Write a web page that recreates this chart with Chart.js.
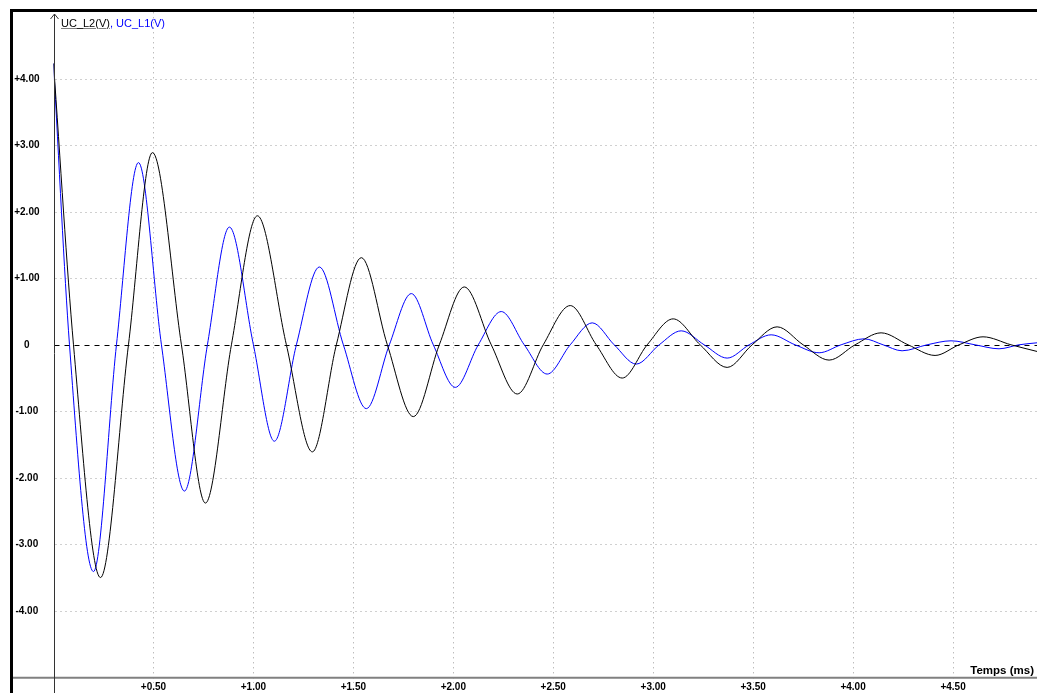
<!DOCTYPE html>
<html>
<head>
<meta charset="utf-8">
<script src="https://cdn.jsdelivr.net/npm/chart.js@4.4.1/dist/chart.umd.min.js"></script>
<style>
  html, body { margin: 0; padding: 0; background: #fff; }
  #wrap { position: relative; width: 1037px; height: 693px; overflow: hidden; }
  #chart { position: absolute; left: 0; top: 0; }
  .legend { position: absolute; left: 61px; top: 17px; font: 11px 'Liberation Sans', Arial, sans-serif; line-height: 13px; white-space: nowrap; }
  .legend .l2 { color: #000; text-decoration: underline; text-decoration-color: #808080; }
  .legend .l1 { color: #0000ff; }
  .xtitle { position: absolute; right: 3px; top: 664px; font: bold 11.5px 'Liberation Sans', Arial, sans-serif; line-height: 13px; color: #000; }
</style>
</head>
<body>
<div id="wrap">
  <canvas id="chart" width="1037" height="693"></canvas>
  <div class="legend"><span class="l2">UC_L2(V)</span><span class="l1">, UC_L1(V)</span></div>
  <div class="xtitle">Temps (ms)</div>
</div>
<script>
// axis ticks
const timeTicks = [0.5, 1.0, 1.5, 2.0, 2.5, 3.0, 3.5, 4.0, 4.5];
const voltTicks = [-4, -3, -2, -1, 0, 1, 2, 3, 4];
const X_MAX = 4.92;

// UC_L2 (black) : peaks, troughs and zero crossings
const timeL2 = [0, 0.10, 0.235, 0.375, 0.495, 0.64, 0.76, 0.89, 1.02, 1.165, 1.295, 1.415, 1.54, 1.67, 1.80,
  1.93, 2.055, 2.19, 2.32, 2.45, 2.585, 2.715, 2.845, 2.97, 3.10, 3.235, 3.37, 3.495, 3.62, 3.75, 3.88,
  4.01, 4.14, 4.275, 4.41, 4.53, 4.65, 4.79, 4.92];
const uL2 = [4.23, 0, -3.50, 0, 2.89, 0, -2.38, 0, 1.94, 0, -1.61, 0, 1.31, 0, -1.08,
  0, 0.87, 0, -0.74, 0, 0.59, 0, -0.50, 0, 0.39, 0, -0.34, 0, 0.27, 0, -0.23,
  0, 0.18, 0, -0.16, 0, 0.12, 0, -0.10];

// UC_L1 (blue)
const timeL1 = [0, 0.08, 0.20, 0.315, 0.425, 0.54, 0.655, 0.77, 0.88, 1.00, 1.105, 1.215, 1.33, 1.45, 1.565,
  1.68, 1.79, 1.90, 2.01, 2.125, 2.24, 2.355, 2.47, 2.585, 2.695, 2.805, 2.915, 3.03, 3.14, 3.255, 3.37,
  3.48, 3.59, 3.71, 3.83, 3.94, 4.055, 4.15, 4.245, 4.37, 4.49, 4.61, 4.73, 4.83, 4.92];
const uL1 = [4.23, 0, -3.41, 0, 2.74, 0, -2.20, 0, 1.77, 0, -1.45, 0, 1.17, 0, -0.96,
  0, 0.77, 0, -0.64, 0, 0.50, 0, -0.44, 0, 0.33, 0, -0.29, 0, 0.21, 0, -0.20,
  0, 0.15, 0, -0.12, 0, 0.09, 0, -0.09, 0, 0.06, 0, -0.06, 0, 0.03];

const FONT = "'Liberation Sans', Arial, sans-serif";

function toPoints(ts, vs) {
  return ts.map((t, i) => ({ x: t, y: vs[i] }));
}

function fmtVolt(v) {
  if (v === 0) return '0';
  return (v > 0 ? '+' : '') + v.toFixed(2);
}

// no extra label padding: chart area is fixed by the layout below
function fixSize(s, w, h) {
  if (w !== null) s.width = w;
  if (h !== null) s.height = h;
  s.paddingTop = 0; s.paddingBottom = 0; s.paddingLeft = 0; s.paddingRight = 0;
}

// grid, zero line, axes, frame
const scopeFrame = {
  id: 'scopeFrame',
  beforeDatasetsDraw(chart) {
    const { ctx, chartArea: a, scales: { x, y } } = chart;
    ctx.save();
    ctx.lineWidth = 1;
    ctx.strokeStyle = '#a0a0a0';
    ctx.setLineDash([1, 4]);
    timeTicks.forEach(t => {
      const px = Math.round(x.getPixelForValue(t)) + 0.5;
      ctx.beginPath(); ctx.moveTo(px, a.top); ctx.lineTo(px, 683); ctx.stroke();
    });
    voltTicks.filter(v => v !== 0).forEach(v => {
      const py = Math.round(y.getPixelForValue(v)) + 0.5;
      ctx.beginPath(); ctx.moveTo(a.left + 2, py); ctx.lineTo(a.right, py); ctx.stroke();
    });
    // dashed zero line
    ctx.strokeStyle = '#000';
    ctx.setLineDash([5, 5]);
    const y0 = Math.round(y.getPixelForValue(0)) + 0.5;
    ctx.beginPath(); ctx.moveTo(a.left + 1, y0); ctx.lineTo(a.right, y0); ctx.stroke();
    ctx.restore();
  },
  afterDraw(chart) {
    const { ctx, chartArea: a } = chart;
    ctx.save();
    // x axis line
    ctx.strokeStyle = '#808080';
    ctx.lineWidth = 2;
    ctx.beginPath(); ctx.moveTo(13, a.bottom + 0.5); ctx.lineTo(1037, a.bottom + 0.5); ctx.stroke();
    // y axis line with arrow
    const xa = Math.round(a.left) + 0.5;
    ctx.strokeStyle = '#333';
    ctx.lineWidth = 1;
    ctx.beginPath(); ctx.moveTo(xa, 14); ctx.lineTo(xa, 693); ctx.stroke();
    ctx.beginPath(); ctx.moveTo(xa - 4, 19); ctx.lineTo(xa, 14); ctx.lineTo(xa + 4, 19); ctx.stroke();
    // outer frame
    ctx.fillStyle = '#000';
    ctx.fillRect(10, 9, 3, 684);
    ctx.fillRect(10, 9, 1027, 3);
    ctx.restore();
  }
};

new Chart(document.getElementById('chart'), {
  type: 'line',
  data: {
    datasets: [
      {
        label: 'UC_L2(V)',
        data: toPoints(timeL2, uL2),
        borderColor: '#000000',
        borderWidth: 1,
        pointRadius: 0,
        cubicInterpolationMode: 'monotone',
      },
      {
        label: 'UC_L1(V)',
        data: toPoints(timeL1, uL1),
        borderColor: '#0000ff',
        borderWidth: 1,
        pointRadius: 0,
        cubicInterpolationMode: 'monotone',
      },
    ],
  },
  options: {
    responsive: false,
    animation: false,
    events: [],
    layout: { padding: { top: 12.3, left: 0, right: 0, bottom: 0 } },
    plugins: { legend: { display: false }, tooltip: { enabled: false } },
    scales: {
      x: {
        type: 'linear',
        min: 0,
        max: X_MAX,
        afterFit: s => fixSize(s, null, 15.7),
        afterBuildTicks: s => { s.ticks = timeTicks.map(v => ({ value: v })); },
        grid: { display: false, drawTicks: false },
        border: { display: false },
        ticks: {
          autoSkip: false,
          maxRotation: 0,
          padding: 4,
          color: '#000',
          font: { family: FONT, size: 10, weight: 'bold' },
          callback: v => '+' + Number(v).toFixed(2),
        },
      },
      y: {
        type: 'linear',
        min: -5,
        max: 5,
        afterFit: s => fixSize(s, 53.5, null),
        afterBuildTicks: s => { s.ticks = voltTicks.map(v => ({ value: v })); },
        grid: { display: false, drawTicks: false },
        border: { display: false },
        ticks: {
          autoSkip: false,
          crossAlign: 'center',
          padding: 14,
          color: '#000',
          font: { family: FONT, size: 10, weight: 'bold' },
          callback: v => fmtVolt(Number(v)),
        },
      },
    },
  },
  plugins: [scopeFrame],
});
</script>
</body>
</html>
